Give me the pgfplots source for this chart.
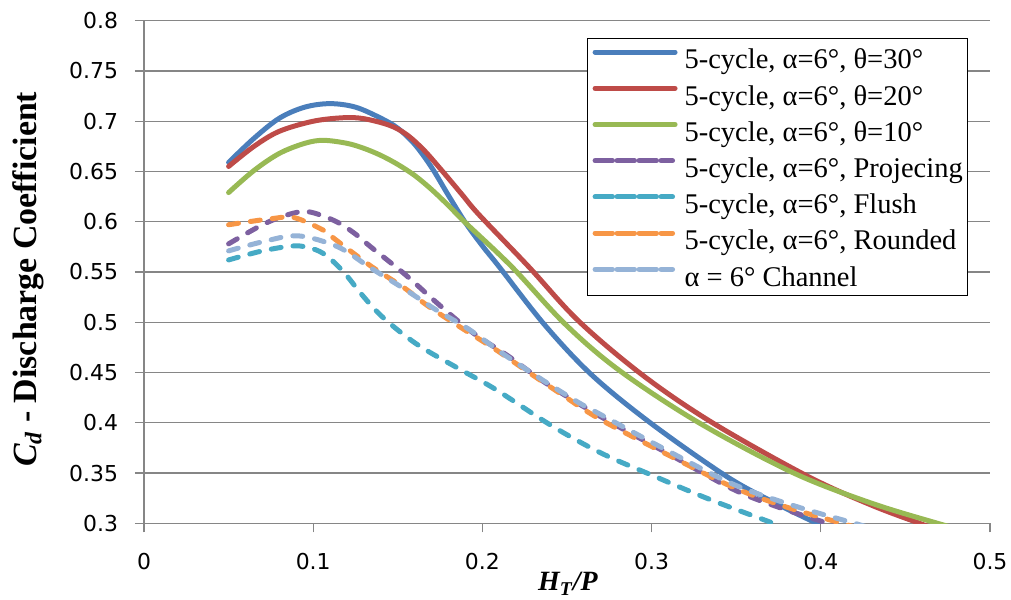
\documentclass[border=0pt]{standalone}
\usepackage{fontspec}
\setmainfont{Liberation Serif}
\newfontfamily\tickfont{DejaVu Sans}
\usepackage{pgfplots}
\pgfplotsset{compat=1.18}
\definecolor{cBlue}{HTML}{4A7EBB}
\definecolor{cRed}{HTML}{BE4B48}
\definecolor{cGreen}{HTML}{98B954}
\definecolor{cPurple}{HTML}{7D60A0}
\definecolor{cTeal}{HTML}{46AAC5}
\definecolor{cOrange}{HTML}{F79646}
\definecolor{cLBlue}{HTML}{95B3D7}
\definecolor{cGrid}{HTML}{868686}
\begin{document}
\begin{tikzpicture}
\begin{axis}[
  name=ax,
  scale only axis, width=423bp, height=251.3bp,
  xmin=0, xmax=0.5, ymin=0.3, ymax=0.8,
  xtick={0,0.1,0.2,0.3,0.4,0.5},
  xticklabels={0,0.1,0.2,0.3,0.4,0.5},
  ytick={0.3,0.35,0.4,0.45,0.5,0.55,0.6,0.65,0.7,0.75,0.8},
  yticklabels={0.3,0.35,0.4,0.45,0.5,0.55,0.6,0.65,0.7,0.75,0.8},
  axis x line*=bottom, axis y line*=left,
  axis line style={cGrid, line width=0.6bp},
  ymajorgrids, grid style={cGrid, line width=0.6bp},
  tick style={cGrid, line width=0.6bp},
  tick align=outside, major tick length=4.5bp,
  tick label style={font=\tickfont\fontsize{11}{11}\selectfont, text=black},
  /pgf/number format/assume math mode=true,
  xticklabel shift=7bp,
  yticklabel shift=5bp,
  every axis y label/.style={at={(axis description cs:-0.1371,0.4856)}, rotate=90, anchor=center},
  every axis x label/.style={at={(axis description cs:0.501,-0.1346)}, anchor=base},
  ylabel={\fontsize{17}{17}\selectfont\bfseries\itshape C\textsubscript{d}\upshape\ - Discharge Coefficient},
  xlabel={\fontsize{14}{14}\selectfont\bfseries\itshape H\textsubscript{T}/P},
  legend style={at={(axis description cs:0.5236,0.9656)}, anchor=north west,
    draw=black, line width=0.6bp, fill=white,
    font=\fontsize{14.3}{14.3}\selectfont,
    inner xsep=2.5bp, inner ysep=2.7bp,
    row sep=3.6bp, column sep=3.5bp,
    nodes={inner sep=0pt, text height=12.5bp, text depth=2bp}},
  legend cell align=left,
  legend image code/.code={\path (0bp,3.2bp) -- (40bp,3.2bp); \draw[#1] (3.75bp,3.2bp) -- (38.75bp,3.2bp);},
  every axis plot/.append style={line width=2.5bp, line cap=round, smooth, tension=0.55},
]
\addplot[cBlue] coordinates {(0.05,0.659) (0.065,0.683) (0.08,0.703) (0.095,0.714) (0.11,0.7175) (0.125,0.714) (0.14,0.703) (0.15,0.693) (0.16,0.677) (0.17,0.654) (0.18,0.626) (0.19,0.599) (0.20,0.576) (0.21,0.555) (0.237,0.497) (0.265,0.447) (0.30,0.399) (0.344,0.347) (0.372,0.321) (0.40,0.298) (0.41,0.29)};
\addlegendentry{5-cycle, α=6°, θ=30°}
\addplot[cRed] coordinates {(0.05,0.655) (0.065,0.675) (0.08,0.690) (0.10,0.700) (0.118,0.7035) (0.13,0.7025) (0.145,0.696) (0.155,0.687) (0.165,0.672) (0.175,0.653) (0.188,0.627) (0.198,0.607) (0.2275,0.555) (0.257,0.501) (0.295,0.447) (0.336,0.400) (0.392,0.347) (0.43,0.318) (0.46,0.299) (0.47,0.293)};
\addlegendentry{5-cycle, α=6°, θ=20°}
\addplot[cGreen] coordinates {(0.05,0.629) (0.065,0.651) (0.08,0.668) (0.095,0.678) (0.106,0.681) (0.12,0.678) (0.13,0.673) (0.14,0.666) (0.15,0.657) (0.16,0.646) (0.17,0.632) (0.18,0.616) (0.19,0.599) (0.2175,0.555) (0.249,0.498) (0.281,0.452) (0.328,0.400) (0.384,0.350) (0.43,0.320) (0.469,0.300) (0.48,0.295)};
\addlegendentry{5-cycle, α=6°, θ=10°}
\addplot[cPurple, dash pattern=on 5bp off 6bp] coordinates {(0.05,0.578) (0.07,0.597) (0.085,0.607) (0.097,0.610) (0.1126,0.601) (0.124,0.589) (0.134,0.575) (0.154,0.548) (0.174,0.518) (0.194,0.490) (0.2156,0.466) (0.237,0.440) (0.269,0.407) (0.309,0.370) (0.348,0.334) (0.375,0.316) (0.406,0.299) (0.415,0.294)};
\addlegendentry{5-cycle, α=6°, Projecing}
\addplot[cTeal, dash pattern=on 5bp off 6bp] coordinates {(0.05,0.562) (0.07,0.571) (0.089,0.576) (0.1,0.573) (0.108,0.566) (0.118,0.550) (0.128,0.529) (0.138,0.510) (0.148,0.495) (0.158,0.482) (0.168,0.471) (0.188,0.452) (0.208,0.433) (0.241,0.397) (0.27,0.370) (0.30,0.348) (0.334,0.324) (0.372,0.300) (0.38,0.295)};
\addlegendentry{5-cycle, α=6°, Flush}
\addplot[cOrange, dash pattern=on 5bp off 6bp] coordinates {(0.05,0.597) (0.075,0.603) (0.089,0.604) (0.1067,0.591) (0.1126,0.583) (0.134,0.556) (0.154,0.534) (0.168,0.516) (0.188,0.494) (0.2077,0.473) (0.2275,0.450) (0.247,0.428) (0.269,0.404) (0.3086,0.369) (0.348,0.336) (0.38,0.316) (0.4145,0.299) (0.425,0.294)};
\addlegendentry{5-cycle, α=6°, Rounded}
\addplot[cLBlue, dash pattern=on 5bp off 6bp] coordinates {(0.05,0.571) (0.07,0.580) (0.091,0.586) (0.1146,0.575) (0.134,0.554) (0.154,0.533) (0.172,0.513) (0.192,0.493) (0.2136,0.467) (0.237,0.441) (0.257,0.420) (0.269,0.409) (0.3086,0.373) (0.348,0.339) (0.385,0.317) (0.42,0.300) (0.43,0.295)};
\addlegendentry{α = 6° Channel}
\end{axis}
\pgfresetboundingbox
\path[use as bounding box] (ax.south west) ++(-72bp,-38.35bp) rectangle ++(505.5bp,300bp);
\end{tikzpicture}
\end{document}
